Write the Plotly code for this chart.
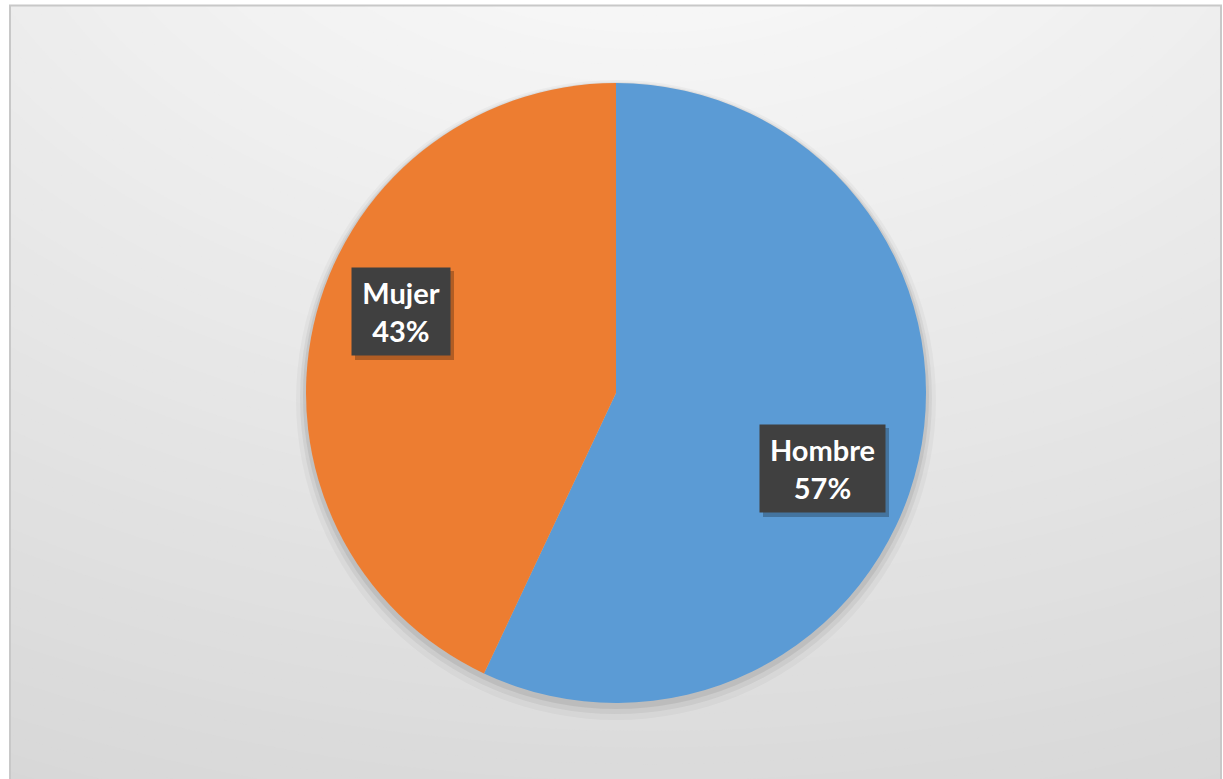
import plotly.graph_objects as go

# ---- data ----
labels = ["Hombre", "Mujer"]
values = [57, 43]
colors = ["#5B9BD5", "#ED7D31"]

W, H = 1223, 779

def px(x):
    return x / W

def py(y):
    return 1 - y / H

# pie geometry in pixels
cx, cy, R = 616, 393, 310

fig = go.Figure()
fig.add_trace(go.Pie(
    labels=labels, values=values, sort=False, direction="clockwise", rotation=0,
    marker=dict(colors=colors, line=dict(width=0)),
    textinfo="none", hoverinfo="label+percent", showlegend=False,
    domain=dict(x=[px(cx - R), px(cx + R)], y=[py(cy + R), py(cy - R)]),
))

shapes = []
# background radial gradient (decoration)
gcx, gcy, rx, ry = 650, -200, 1400, 950
N = 80
dmax = 1.4
for i in range(N, 0, -1):
    d = dmax * i / N
    L = int(round(254 - 34 * d))
    L = max(212, min(252, L))
    col = f"rgb({L},{L},{L})"
    shapes.append(dict(type="circle", xref="paper", yref="paper", layer="below",
                       x0=px(gcx - d * rx), x1=px(gcx + d * rx),
                       y0=py(gcy + d * ry), y1=py(gcy - d * ry),
                       fillcolor=col, line=dict(width=0)))
# pie soft shadow (mostly below)
for extra, op, dy in [(10, 0.03, 7), (6, 0.05, 5), (3, 0.07, 3)]:
    shapes.append(dict(type="circle", xref="paper", yref="paper", layer="below",
                       x0=px(cx - R - extra), x1=px(cx + R + extra),
                       y0=py(cy + dy + R + extra), y1=py(cy + dy - R - extra),
                       fillcolor=f"rgba(0,0,0,{op})", line=dict(width=0)))
# white area outside chart frame
for (x0, y0, x1, y1) in [(-5, -5, 10, H + 20), (1221, -5, W + 20, H + 20), (-5, -5, W + 20, 5)]:
    shapes.append(dict(type="rect", xref="paper", yref="paper", layer="above",
                       x0=px(x0), x1=px(x1), y0=py(y1), y1=py(y0),
                       fillcolor="white", line=dict(width=0)))
# frame border
shapes.append(dict(type="rect", xref="paper", yref="paper", layer="above",
                   x0=px(10), x1=px(1221), y0=py(H + 30), y1=py(5.5),
                   fillcolor="rgba(0,0,0,0)", line=dict(color="#C8C8C8", width=2)))

# data labels
total = sum(values)
label_pos = {"Hombre": (822.5, 468.5, 125), "Mujer": (401, 311.5, 98)}
BH = 87
annotations = []
for lab, val in zip(labels, values):
    x, y, w = label_pos[lab]
    # drop shadow of label box
    shapes.append(dict(type="rect", xref="paper", yref="paper", layer="above",
                       x0=px(x - w / 2 + 3), x1=px(x + w / 2 + 4),
                       y0=py(y + BH / 2 + 5), y1=py(y - BH / 2 + 3),
                       fillcolor="rgba(0,0,0,0.25)", line=dict(width=0)))
    annotations.append(dict(x=px(x), y=py(y), xref="paper", yref="paper",
                            xanchor="center", yanchor="middle",
                            text=f"<b>{lab}</b><br><b>{round(100 * val / total)}%</b>",
                            showarrow=False, width=w - 10, height=BH - 10, borderpad=5,
                            bgcolor="#404040",
                            font=dict(family="Lato", size=29, color="white")))

fig.update_layout(
    width=W, height=H, margin=dict(l=0, r=0, t=0, b=0),
    paper_bgcolor="white", plot_bgcolor="white",
    shapes=shapes, annotations=annotations,
)
fig.write_html("out.html", config={"displayModeBar": False},
               post_script="document.body.style.margin='0px';")
